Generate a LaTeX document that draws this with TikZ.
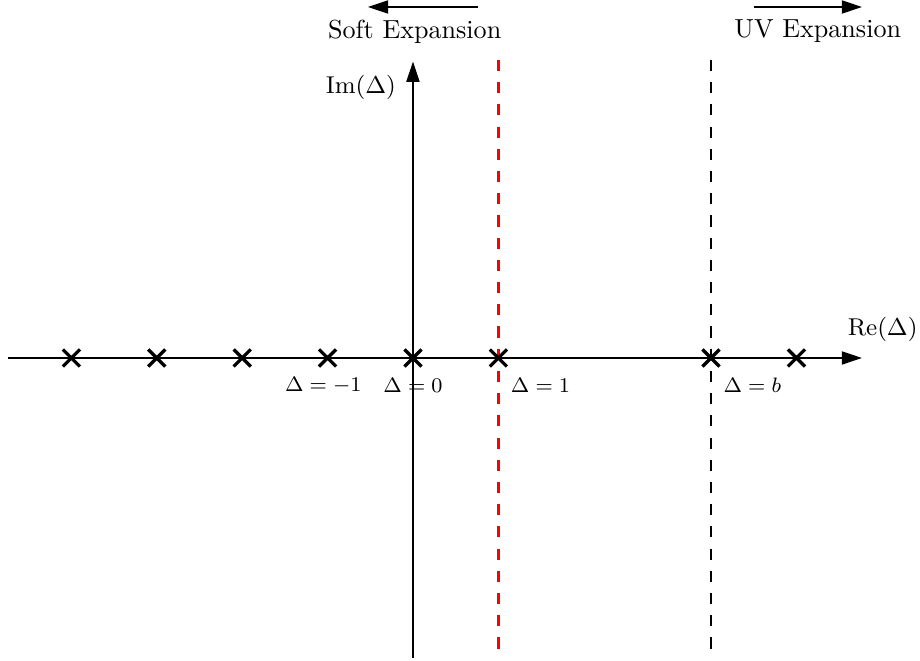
\documentclass[tikz,border=0pt]{standalone}
\usetikzlibrary{arrows.meta,shapes.misc}
\begin{document}
\begin{tikzpicture}[
  axis/.style={line width=0.4pt,-{Triangle[length=6.7pt,width=4.4pt]}},
  pole/.style={cross out,draw,line width=1.1pt,minimum size=4.6pt,inner sep=0pt},
  cutline/.style={line width=0.8pt,dash pattern=on 3.7pt off 3.7pt},
  toptext/.style={font=\normalsize,scale=0.87,inner sep=0pt},
  axtext/.style={font=\small,scale=0.9,inner sep=0pt},
  dlabel/.style={font=\footnotesize,scale=0.87,inner sep=0pt},
  toparrow/.style={line width=0.4pt,-{Triangle[length=6.7pt,width=4.4pt]}}
]
\useasboundingbox (-4.836,-3.548) rectangle (5.937,4.192);
% axes
\coordinate (xl) at (-4.74,0);
\coordinate (xr) at (5.257,0);
\coordinate (yb) at (0,-3.51);
\coordinate (yt) at (0,3.47);
\draw[axis] (xl) -- (xr);
\draw[axis] (yb) -- (yt);
% dashed lines
\coordinate (r1) at (1,3.49);
\coordinate (r2) at (1,-3.5);
\coordinate (b1) at (3.49,3.49);
\coordinate (b2) at (3.49,-3.5);
\draw[cutline,red] (r1) -- (r2);
\draw[cutline,black] (b1) -- (b2);
% poles
\node[pole] (pm4) at (-4,0) {};
\node[pole] (pm3) at (-3,0) {};
\node[pole] (pm2) at (-2,0) {};
\node[pole] (pm1) at (-1,0) {};
\node[pole] (p0) at (0,0) {};
\node[pole] (p1) at (1,0) {};
\node[pole] (pb) at (3.49,0) {};
\node[pole] (pb1) at (4.49,0) {};
% labels
\node[dlabel] (lm1) at (-1.05,-0.316) {$\Delta=-1$};
\node[dlabel] (l0) at (0,-0.316) {$\Delta=0$};
\node[dlabel,anchor=west] (l1) at (1.14,-0.316) {$\Delta=1$};
\node[dlabel,anchor=west] (lb) at (3.63,-0.316) {$\Delta=b$};
\node[axtext] (im) at (-0.61,3.17) {$\mathrm{Im}(\Delta)$};
\node[axtext] (re) at (5.50,0.33) {$\mathrm{Re}(\Delta)$};
% top
\node[toptext] (soft) at (0.02,3.82) {Soft Expansion};
\node[toptext] (uv) at (4.74,3.83) {UV Expansion};
\coordinate (sa) at (0.76,4.11);
\coordinate (sb) at (-0.527,4.11);
\coordinate (ua) at (3.99,4.11);
\coordinate (ub) at (5.257,4.11);
\draw[toparrow] (sa) -- (sb);
\draw[toparrow] (ua) -- (ub);
\end{tikzpicture}
\end{document}
